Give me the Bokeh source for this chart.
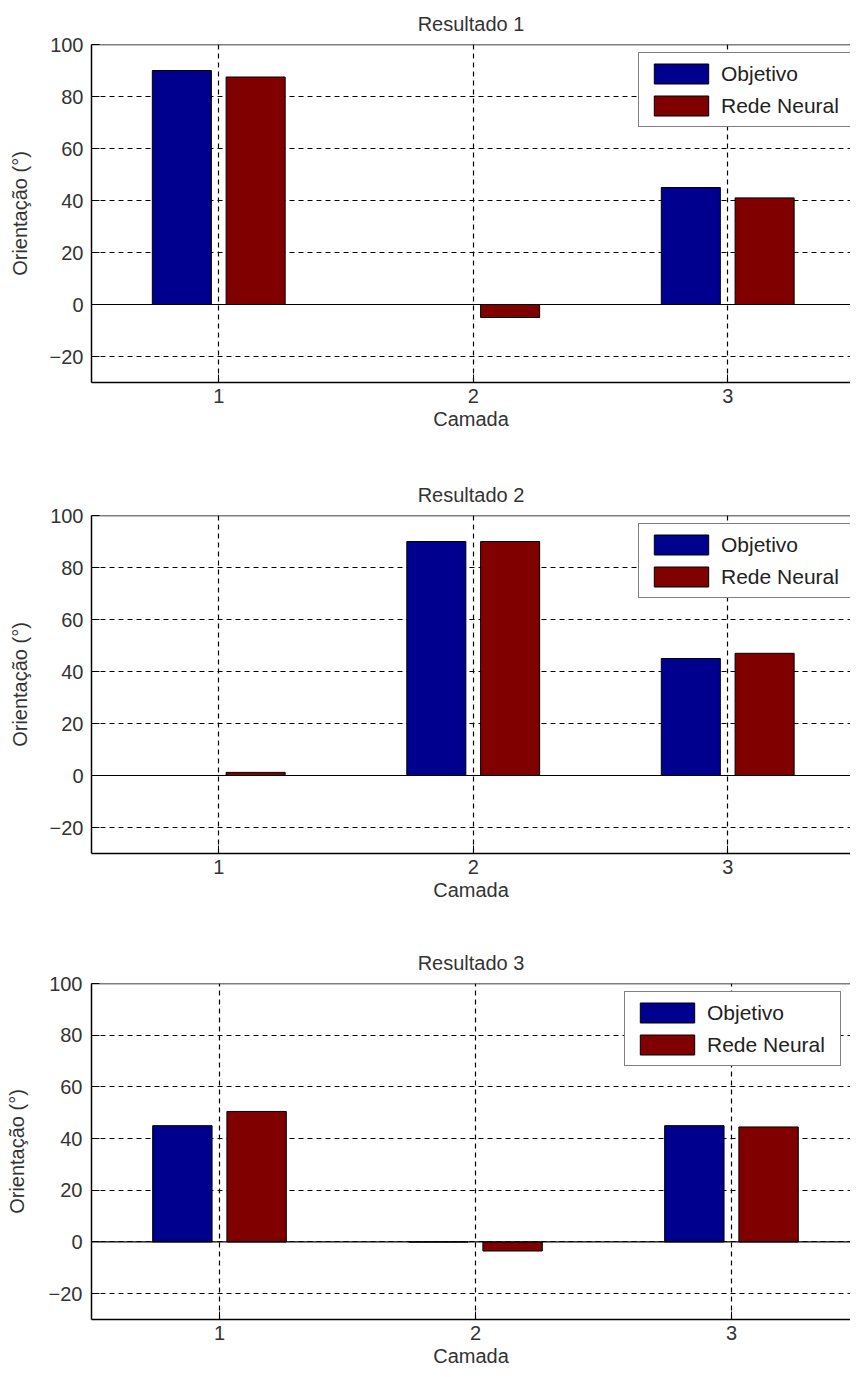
from bokeh.plotting import figure
from bokeh.models import ColumnDataSource, FixedTicker, Span, Range1d, Legend, LegendItem
from bokeh.transform import dodge
from bokeh.layouts import column
from bokeh.embed import file_html
from bokeh.resources import INLINE

# ---- data ----
camada = [1, 2, 3]
objetivo_1 = [90, 0, 45]
rede_neural_1 = [87.5, -5, 41]
objetivo_2 = [0, 90, 45]
rede_neural_2 = [1.2, 90, 47]
objetivo_3 = [45, 0, 45]
rede_neural_3 = [50.5, -3.5, 44.5]
titles = ["Resultado 1", "Resultado 2", "Resultado 3"]
series_names = ["Objetivo", "Rede Neural"]
y_ticks = [-20, 0, 20, 40, 60, 80, 100]
x_label = "Camada"
y_label = "Orientação (°)"

FONT = "Liberation Sans"
TXT = "#333333"
BLUE = "#00008F"
RED = "#800000"


def make_fig(title, obj, rn, left, top, bottom, frame_h, x_end, legend_xy, y_std):
    src = ColumnDataSource(dict(x=camada, obj=obj, rn=rn))
    p = figure(width=850, height=top + frame_h + bottom,
               x_range=Range1d(0.5, x_end), y_range=Range1d(-30, 100),
               output_backend="svg", toolbar_location=None,
               min_border_left=left, min_border_right=0,
               min_border_top=top, min_border_bottom=bottom,
               title=title)
    p.title.text_font = FONT
    p.title.text_font_size = "20px"
    p.title.text_font_style = "normal"
    p.title.text_color = TXT
    p.title.align = "center"
    p.title.standoff = 20
    p.title.offset = 4

    r1 = p.vbar(x=dodge("x", -0.145), top="obj", bottom=0, width=0.232,
                fill_color=BLUE, line_color="black", line_width=1, source=src)
    r2 = p.vbar(x=dodge("x", 0.145), top="rn", bottom=0, width=0.232,
                fill_color=RED, line_color="black", line_width=1, source=src)

    p.outline_line_color = None
    p.add_layout(Span(location=100, dimension="width", line_color="black", line_width=1.5))
    p.add_layout(Span(location=0, dimension="width", line_color="black", line_width=1.2))

    p.xaxis.ticker = FixedTicker(ticks=camada)
    p.yaxis.ticker = FixedTicker(ticks=y_ticks)
    for ax in (p.xaxis[0], p.yaxis[0]):
        ax.major_label_text_font = FONT
        ax.major_label_text_font_size = "20px"
        ax.major_label_text_color = TXT
        ax.axis_label_text_font = FONT
        ax.axis_label_text_font_size = "20px"
        ax.axis_label_text_font_style = "normal"
        ax.axis_label_text_color = TXT
        ax.axis_line_color = "black"
        ax.axis_line_width = 1.5
        ax.major_tick_in = 8
        ax.major_tick_out = 0
        ax.major_tick_line_color = "black"
        ax.minor_tick_line_color = None
    p.xaxis.axis_label = x_label
    p.yaxis.axis_label = y_label
    p.xaxis.major_label_standoff = 6
    p.xaxis.axis_label_standoff = 2
    p.yaxis.major_label_standoff = y_std[0]
    p.yaxis.axis_label_standoff = y_std[1]

    for g in (p.xgrid[0], p.ygrid[0]):
        g.grid_line_color = "black"
        g.grid_line_dash = "5 4"
        g.grid_line_width = 1.2
        g.grid_line_alpha = 1

    legend = Legend(items=[LegendItem(label=series_names[0], renderers=[r1]),
                           LegendItem(label=series_names[1], renderers=[r2])],
                    location=legend_xy)
    legend.glyph_width = 68
    legend.glyph_height = 25
    legend.label_height = 25
    legend.label_width = 125
    legend.label_standoff = 6
    legend.spacing = 7
    legend.padding = 8
    legend.margin = 0
    legend.label_text_font = FONT
    legend.label_text_font_size = "21px"
    legend.label_text_color = "#222222"
    legend.border_line_color = "black"
    legend.border_line_width = 1
    legend.background_fill_alpha = 1
    p.add_layout(legend)
    return p


p1 = make_fig(titles[0], objetivo_1, rede_neural_1, 82, 44, 70, 338, 3.4825, (547, 255), (8, 16))
p2 = make_fig(titles[1], objetivo_2, rede_neural_2, 82, 63, 70, 338, 3.4825, (547, 255), (8, 16))
p3 = make_fig(titles[2], objetivo_3, rede_neural_3, 91, 60, 50, 336, 3.465, (533, 253), (9, 18))

layout = column(p1, p2, p3)
open("out.html", "w").write(file_html(layout, INLINE))
